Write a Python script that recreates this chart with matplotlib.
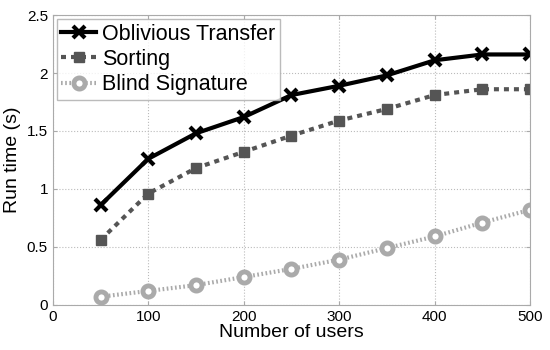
import numpy as np
import matplotlib.pyplot as plt

plt.rcParams['font.family'] = ['Liberation Sans', 'DejaVu Sans']

users = [50, 100, 150, 200, 250, 300, 350, 400, 450, 500]
ot_time = [0.86, 1.26, 1.48, 1.62, 1.81, 1.89, 1.98, 2.11, 2.16, 2.16]
sort_time = [0.56, 0.96, 1.18, 1.32, 1.46, 1.59, 1.69, 1.81, 1.86, 1.86]
blind_time = [0.07, 0.12, 0.17, 0.24, 0.31, 0.39, 0.49, 0.59, 0.71, 0.82]

fig = plt.figure(figsize=(5.5, 3.5), dpi=100)
ax = fig.add_axes([0.096, 0.129, 0.868, 0.828])

ax.plot(users, ot_time, color='black', lw=3, marker='x', ms=9, mew=3,
        label='Oblivious Transfer')
ax.plot(users, sort_time, color='#555555', lw=3, ls=(0, (1.2, 1.2)), marker='s', ms=7,
        mfc='#555555', mec='#555555', label='Sorting')
ax.plot(users, blind_time, color='#aaaaaa', lw=3, ls=(0, (0.4, 0.6)), marker='o', ms=8,
        mfc='white', mec='#aaaaaa', mew=3.5, label='Blind Signature')

ax.set_xlim(0, 500)
ax.set_ylim(0, 2.5)
ax.set_xticks([0, 100, 200, 300, 400, 500])
ax.set_yticks([0, 0.5, 1, 1.5, 2, 2.5])
ax.set_yticklabels(['0', '0.5', '1', '1.5', '2', '2.5'])
ax.grid(True, ls=':', color='#bbbbbb', lw=0.8)
for s in ax.spines.values():
    s.set_color('#aaaaaa')
ax.tick_params(direction='in', length=3, colors='#aaaaaa', labelcolor='black',
               labelsize=11, top=True, right=True)
ax.set_xlabel('Number of users', fontsize=14, labelpad=0)
ax.set_ylabel('Run time (s)', fontsize=14, labelpad=4)

leg = ax.legend(loc='upper left', fontsize=15.5, handlelength=1.6, handletextpad=0.3,
                borderpad=0.2, labelspacing=0.2, fancybox=False, borderaxespad=0.2)
leg.get_frame().set_edgecolor('#aaaaaa')
leg.get_frame().set_linewidth(1)

fig.savefig('out.png', dpi=100)
